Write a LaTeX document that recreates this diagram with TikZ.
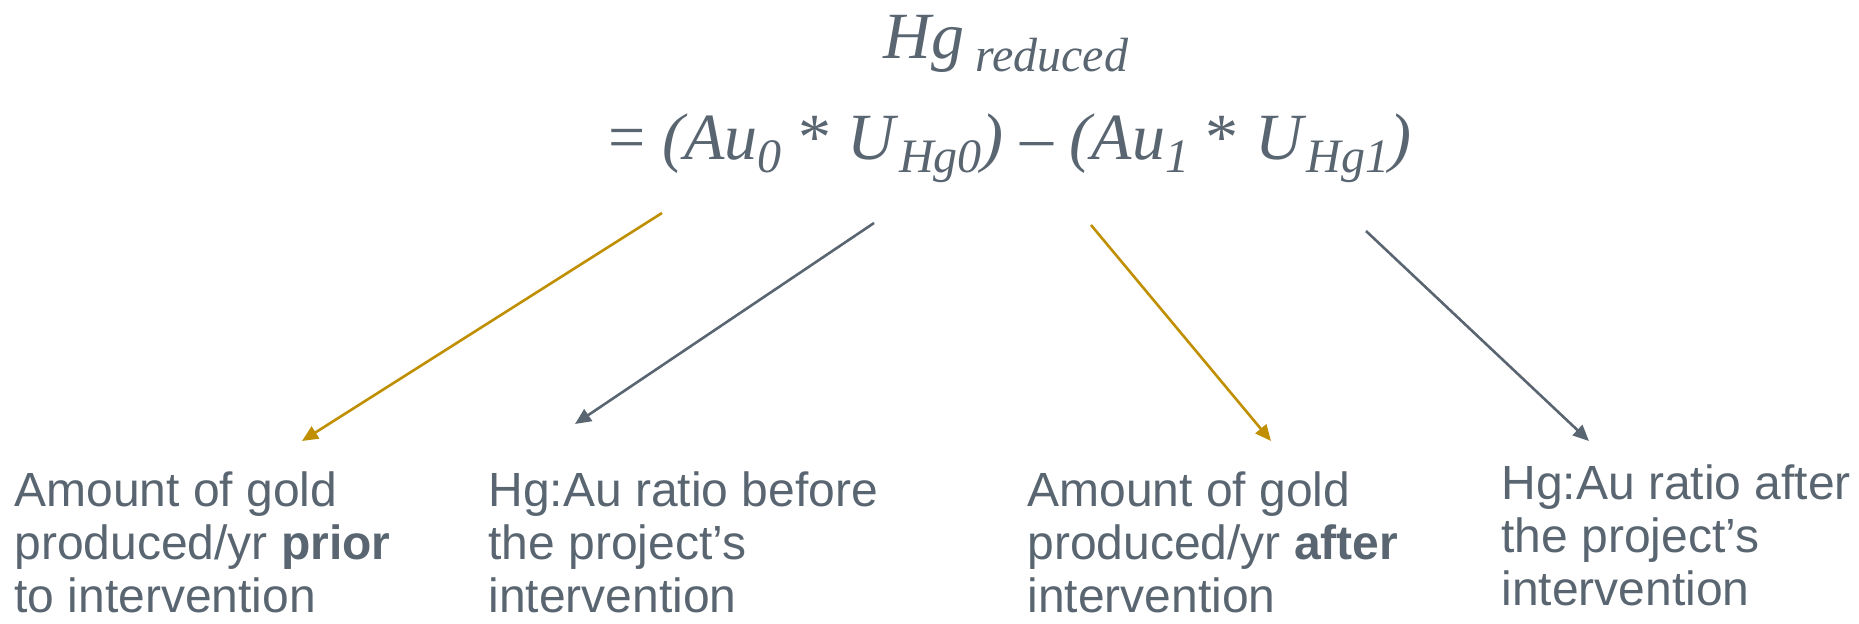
\documentclass[tikz,border=0pt]{standalone}
\usepackage{fontspec}
\setmainfont{Liberation Sans}
\newfontfamily\formfont{Liberation Serif}
\usetikzlibrary{arrows.meta}
\definecolor{slate}{RGB}{89,101,112}
\definecolor{gold}{RGB}{191,143,0}
\newcommand\lowsub[1]{\raisebox{-0.4ex}{\fontsize{24}{24}\selectfont\itshape #1}}
\tikzset{
  formula/.style={anchor=base, inner sep=0pt, text=slate,
    font=\formfont\fontsize{33}{33}\selectfont},
  notebox/.style={anchor=base west, align=left, inner sep=0pt, text=slate,
    font=\fontsize{24}{26.5}\selectfont},
  pointer/.style={line width=1.3pt, -{Triangle[length=8pt,width=7pt]}}
}
\begin{document}
\begin{tikzpicture}[x=0.5pt,y=-0.5pt]
  \useasboundingbox (0,0) rectangle (1859,624);
  \node[formula] (hg) at (1006,59) {\textit{Hg}\,\lowsub{reduced}};
  \node[formula] (eq) at (1010,160)
    {= \textit{(Au}\lowsub{0} * \textit{U}\lowsub{Hg0}\textit{)} – \textit{(Au}\lowsub{1} * \textit{U}\lowsub{Hg1}\textit{)}};
  % base anchor sits on the last line
  \node[notebox] (au0) at (14,613) {Amount of gold\\produced/yr \textbf{prior}\\to intervention};
  \node[notebox] (u0) at (488,613) {Hg:Au ratio before\\the project’s\\intervention};
  \node[notebox] (au1) at (1027,613) {Amount of gold\\produced/yr \textbf{after}\\intervention};
  \node[notebox] (u1) at (1501,606) {Hg:Au ratio after\\the project’s\\intervention};
  \coordinate (s1) at (662,213); \coordinate (e1) at (302,441);
  \coordinate (s2) at (874,223); \coordinate (e2) at (575,424);
  \coordinate (s3) at (1091,225); \coordinate (e3) at (1271,441);
  \coordinate (s4) at (1366,231); \coordinate (e4) at (1589,441);
  \foreach \n/\c in {1/gold, 2/slate, 3/gold, 4/slate}
    \draw[pointer, draw=\c, fill=\c] (s\n) -- (e\n);
\end{tikzpicture}
\end{document}
